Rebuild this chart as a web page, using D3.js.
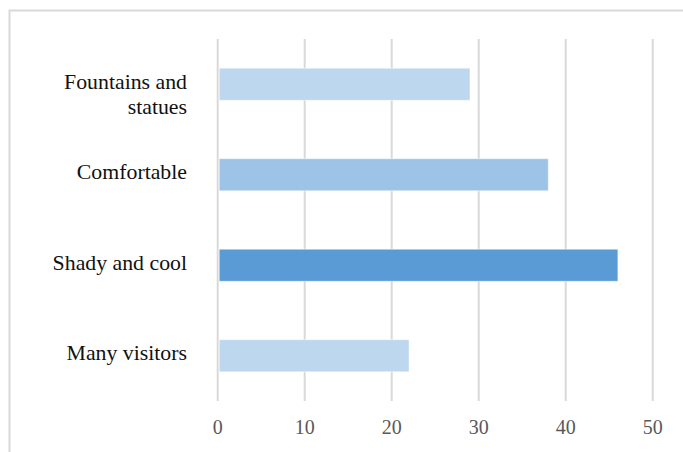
<!DOCTYPE html>
<html>
<head>
<meta charset="utf-8">
<script src="https://cdn.jsdelivr.net/npm/d3@7"></script>
<style>
  html, body { margin: 0; padding: 0; background: #fff; }
  svg { display: block; }
</style>
</head>
<body>
<svg id="chart" width="683" height="452"></svg>
<script>
// Reasons given, listed top to bottom
const categories = ["Fountains and statues", "Comfortable", "Shady and cool", "Many visitors"];
const labelLines = [["Fountains and", "statues"], ["Comfortable"], ["Shady and cool"], ["Many visitors"]];
const values = [29, 38, 46, 22];
const barColors = ["#BDD7EE", "#9DC3E6", "#5B9BD5", "#BDD7EE"];
const xTicks = [0, 10, 20, 30, 40, 50];

const svg = d3.select("#chart");
const W = 683, H = 452;

// Chart frame (open to the right and bottom)
svg.append("rect")
  .attr("x", 9.5).attr("y", 10.5)
  .attr("width", W + 20).attr("height", H + 20)
  .attr("fill", "none").attr("stroke", "#D9D9D9").attr("stroke-width", 2);

const plot = { left: 217.7, right: 652.7, top: 39, bottom: 401 };

const x = d3.scaleLinear().domain([0, 50]).range([plot.left, plot.right]);
const y = d3.scaleBand().domain(categories).range([plot.top, plot.bottom]).paddingInner(0.645).paddingOuter(0.3225);

// Vertical gridlines
svg.append("g")
  .selectAll("line")
  .data(xTicks)
  .join("line")
  .attr("x1", d => x(d)).attr("x2", d => x(d))
  .attr("y1", plot.top).attr("y2", plot.bottom)
  .attr("stroke", "#D9D9D9").attr("stroke-width", 2);

// Bars
svg.append("g")
  .selectAll("rect")
  .data(categories)
  .join("rect")
  .attr("x", x(0) + 1.5)
  .attr("y", d => y(d))
  .attr("width", (d, i) => x(values[i]) - x(0) - 1.5)
  .attr("height", y.bandwidth())
  .attr("fill", (d, i) => barColors[i])
  .attr("stroke", "rgba(255,255,255,0.55)")
  .attr("stroke-width", 1);

// Category labels, right-aligned next to the zero line
const labels = svg.append("g")
  .attr("font-family", "'Liberation Serif', 'Times New Roman', serif")
  .attr("font-size", 21.8)
  .attr("fill", "#111")
  .attr("text-anchor", "end");

categories.forEach((c, i) => {
  const cy = y(c) + y.bandwidth() / 2;
  const t = labels.append("text").attr("x", 187).attr("y", cy + 4.5);
  labelLines[i].forEach((line, j) => {
    t.append("tspan").attr("x", 187).attr("dy", j === 0 ? 0 : 24.8).text(line);
  });
});

// X axis tick labels
svg.append("g")
  .attr("font-family", "'Liberation Serif', 'Times New Roman', serif")
  .attr("font-size", 20)
  .attr("fill", "#595959")
  .attr("text-anchor", "middle")
  .selectAll("text")
  .data(xTicks)
  .join("text")
  .attr("x", d => x(d))
  .attr("y", 434)
  .text(d => d);
</script>
</body>
</html>
